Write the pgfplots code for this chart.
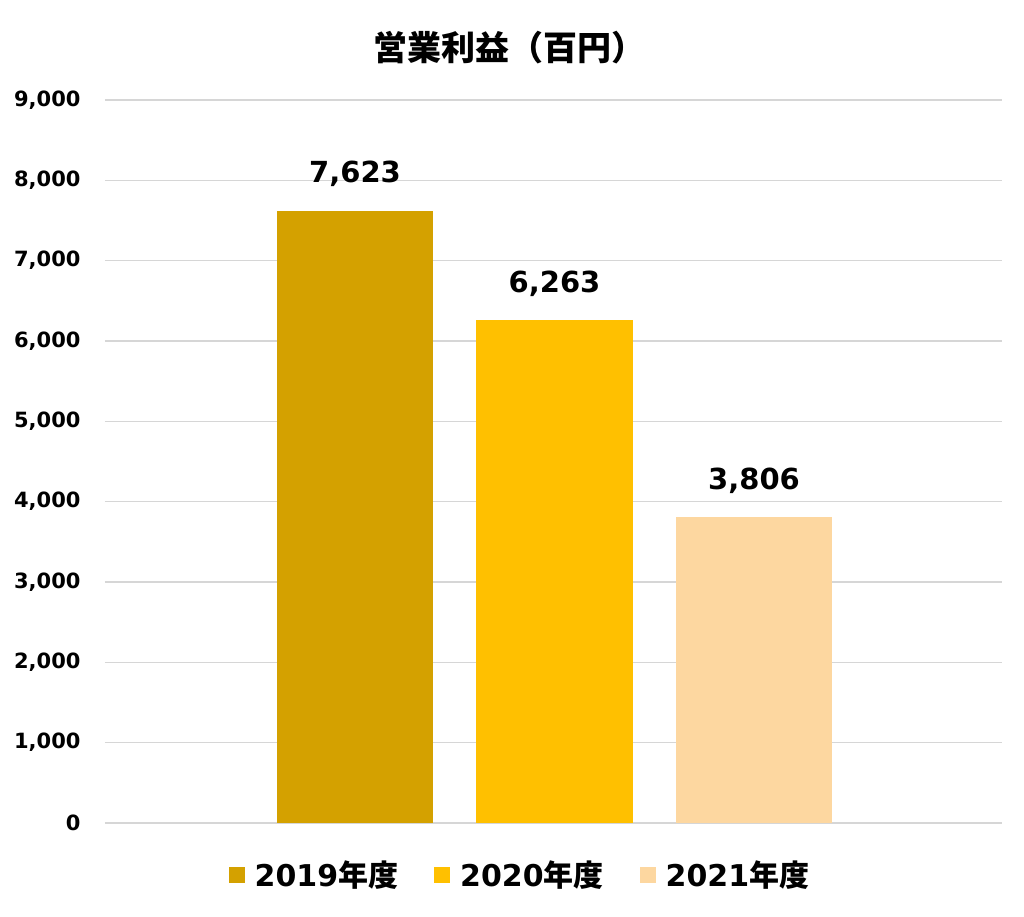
\documentclass[border=0pt]{standalone}
\usepackage{pgfplots}
\pgfplotsset{compat=1.18}
\usepackage{fontspec}
\setmainfont{DejaVu Sans}
\newfontfamily\cjk{Noto Sans CJK JP}
\definecolor{cA}{HTML}{D4A100}
\definecolor{cB}{HTML}{FFC000}
\definecolor{cC}{HTML}{FDD7A0}
\pgfkeys{/pgf/number format/.cd, fixed, 1000 sep={,}, assume math mode=true}
\begin{document}
\begin{tikzpicture}[x=1pt,y=1pt]
\path[use as bounding box] (0,0) rectangle (1024,917);
\node[font=\cjk\bfseries\fontsize{34}{40}\selectfont] at (509,869) {営業利益（百円）};
\begin{axis}[
  at={(105pt,94pt)}, anchor=south west,
  scale only axis, width=897pt, height=723pt,
  xmin=-1.253, xmax=3.243, ymin=0, ymax=9000,
  axis line style={draw=none},
  tick style={draw=none},
  xtick=\empty,
  ytick={0,1000,...,9000},
  ymajorgrids,
  grid style={color=black!16, line width=1.2pt},
  yticklabel style={font=\bfseries\fontsize{21}{25}\selectfont, anchor=east, xshift=-21pt},
  yticklabel={\pgfmathprintnumber{\tick}},
  nodes near coords,
  every node near coord/.append style={font=\bfseries\fontsize{29}{34}\selectfont, yshift=20pt},
  legend style={at={(0.467,-0.047)}, anchor=north, draw=none, fill=none,
    font=\bfseries\fontsize{30}{34}\selectfont,
    nodes={inner xsep=10pt},
    /tikz/every even column/.append style={column sep=26pt}},
  legend columns=3,
  legend image code/.code={\fill[#1] (0pt,-8pt) rectangle (16pt,8pt);},
]
\addplot[ybar, fill=cA, draw=none, bar width=0.782, bar shift=0pt] coordinates {(0,7623)};
\addlegendentry{2019{\cjk 年度}}
\addplot[ybar, fill=cB, draw=none, bar width=0.782, bar shift=0pt] coordinates {(1,6263)};
\addlegendentry{2020{\cjk 年度}}
\addplot[ybar, fill=cC, draw=none, bar width=0.782, bar shift=0pt] coordinates {(2,3806)};
\addlegendentry{2021{\cjk 年度}}
\end{axis}
\end{tikzpicture}
\end{document}
